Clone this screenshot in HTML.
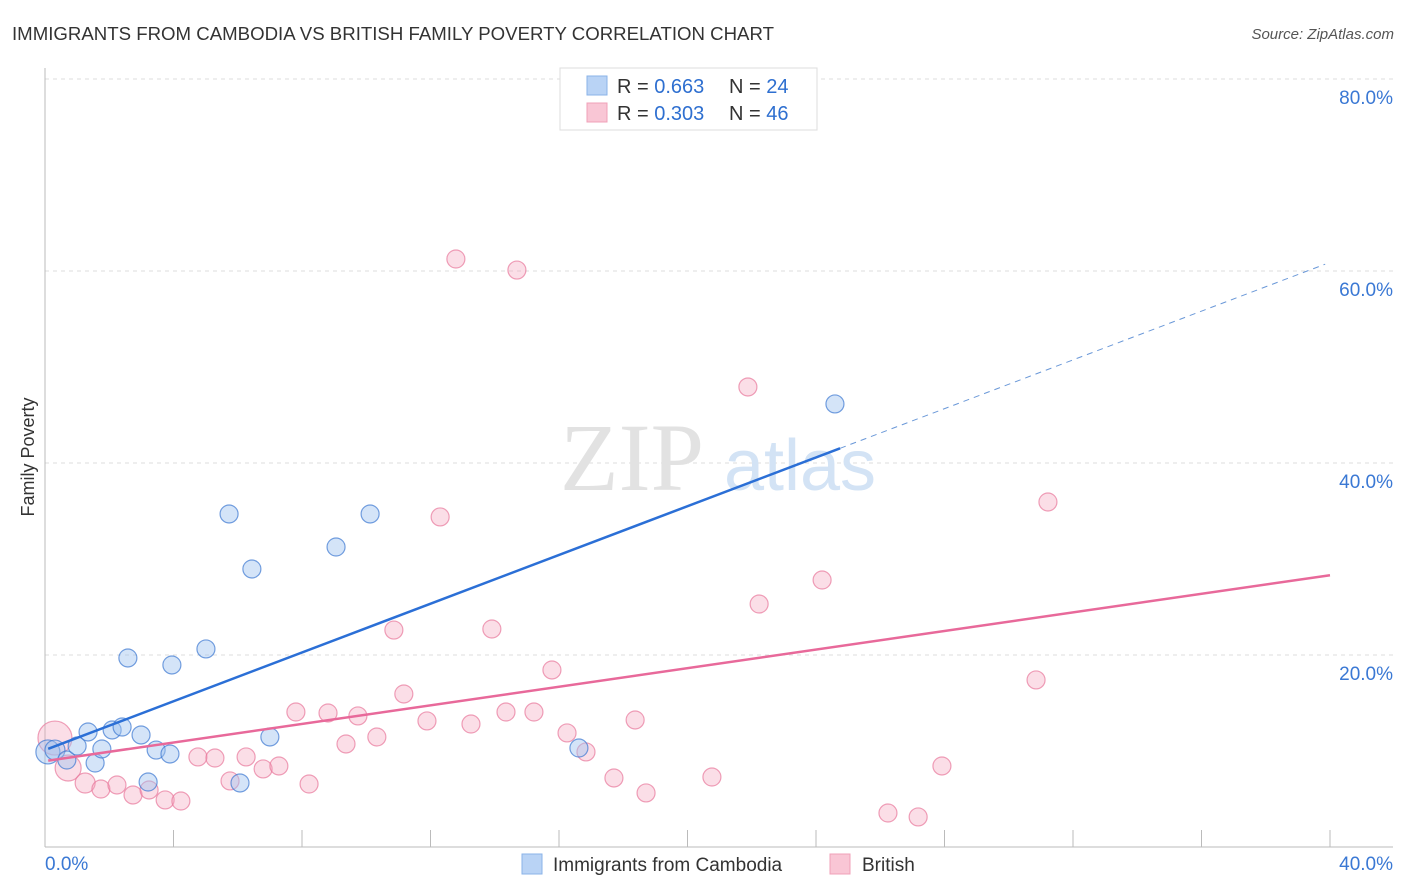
<!DOCTYPE html>
<html><head><meta charset="utf-8"><style>
body{margin:0;background:#fff;font-family:"Liberation Sans",sans-serif;}
svg{display:block}
</style></head><body>
<svg id="chart" width="1406" height="892" xmlns="http://www.w3.org/2000/svg">
<text x="12" y="40" font-size="18" fill="#333" textLength="762" lengthAdjust="spacingAndGlyphs">IMMIGRANTS FROM CAMBODIA VS BRITISH FAMILY POVERTY CORRELATION CHART</text>
<text x="1394" y="39" font-size="15" fill="#555" font-style="italic" text-anchor="end">Source: ZipAtlas.com</text>
<g id="grid"></g>
<g>
<text x="632" y="490" font-size="96" fill="#e2e2e2" font-family="Liberation Serif,serif" text-anchor="middle">ZIP</text>
<text x="800" y="490" font-size="72" fill="#d3e3f5" text-anchor="middle">atlas</text>
</g>
<g id="axes"></g>
<g id="marks"></g>
<text transform="translate(34,457) rotate(-90)" font-size="18" fill="#333" text-anchor="middle">Family Poverty</text>
<g>
<rect x="560" y="68" width="257" height="62" fill="#fff" stroke="#ddd"/>
<rect x="587" y="76" width="20" height="19" fill="#b9d3f5" stroke="#8ab3e8"/>
<rect x="587" y="103" width="20" height="19" fill="#f9c6d5" stroke="#f0a0b8"/>
<text x="617" y="93" font-size="20" fill="#333">R = <tspan fill="#2e6fd0">0.663</tspan></text>
<text x="729" y="93" font-size="20" fill="#333">N = <tspan fill="#2e6fd0">24</tspan></text>
<text x="617" y="120" font-size="20" fill="#333">R = <tspan fill="#2e6fd0">0.303</tspan></text>
<text x="729" y="120" font-size="20" fill="#333">N = <tspan fill="#2e6fd0">46</tspan></text>
</g>
<g>
<rect x="522" y="854" width="20" height="20" fill="#b9d3f5" stroke="#8ab3e8"/>
<text x="553" y="871" font-size="19" fill="#333">Immigrants from Cambodia</text>
<rect x="830" y="854" width="20" height="20" fill="#f9c6d5" stroke="#f0a0b8"/>
<text x="862" y="871" font-size="19" fill="#333">British</text>
</g>
</svg>
<script>
const blueX=[0.09,0.31,0.68,1.0,1.34,1.56,1.77,2.09,2.4,2.58,2.99,3.21,3.46,3.89,3.95,5.01,5.73,6.07,6.44,7.0,9.06,10.12,16.62,24.59];
const blueY=[9.9,10.1,9.06,10.52,11.98,8.75,10.21,12.19,12.5,19.69,11.67,6.77,10.1,9.69,18.96,20.63,34.69,6.67,28.96,11.46,31.25,34.69,10.31,46.15];
const blueR=[12,10,9,9,9,9,9,9,9,9,9,9,9,9,9,9,9,9,9,9,9,9,9,9];
const pinkX=[0.31,0.72,1.25,1.74,2.24,2.74,3.24,3.74,4.23,4.76,5.29,5.76,6.26,6.79,7.28,7.81,8.22,8.81,9.37,9.74,10.33,10.86,11.17,11.89,12.3,12.79,13.26,13.91,14.35,14.69,15.22,15.78,16.25,16.84,17.71,18.37,18.71,20.76,21.88,22.23,24.19,26.24,27.18,27.92,30.85,31.22];
const pinkY=[11.35,8.23,6.67,6.04,6.46,5.42,5.94,4.9,4.79,9.38,9.27,6.88,9.38,8.13,8.44,14.06,6.56,13.96,10.73,13.65,11.46,22.6,15.94,13.13,34.38,61.25,12.81,22.71,14.06,60.1,14.06,18.44,11.88,9.9,7.19,13.23,5.63,7.29,47.92,25.31,27.81,3.54,3.13,8.44,17.4,35.94];
const pinkR=[17,13,10,9,9,9,9,9,9,9,9,9,9,9,9,9,9,9,9,9,9,9,9,9,9,9,9,9,9,9,9,9,9,9,9,9,9,9,9,9,9,9,9,9,9,9];
const blueTrend=[10.1,1.27,24.75];
const pinkTrend=[8.95,0.484];
const yTicks=[20,40,60,80];
const yTickLabels=["20.0%","40.0%","60.0%","80.0%"];
const xTickLabels=["0.0%","40.0%"];
const NS="http://www.w3.org/2000/svg";
const X=v=>45+v*32.125, Y=v=>847-v*9.6;
function mk(tag,attrs,parent){const e=document.createElementNS(NS,tag);for(const k in attrs)e.setAttribute(k,attrs[k]);document.getElementById(parent).appendChild(e);return e;}
yTicks.forEach((t,i)=>{
 const g=mk('line',{x1:45,x2:1393,y1:Y(t),y2:Y(t),stroke:'#ddd','stroke-dasharray':'4,4'},'grid');
 
 
 const l=mk('text',{x:1393,y:Y(t)+25,'font-size':19,fill:'#3a78d4','text-anchor':'end'},'axes');
 l.textContent=yTickLabels[i];
 
 
});
let a=mk('line',{x1:45,x2:45,y1:68,y2:847,stroke:'#bbb'},'axes');


a=mk('line',{x1:45,x2:1393,y1:847,y2:847,stroke:'#bbb'},'axes');


for(let i=1;i<=10;i++){const t=mk('line',{x1:X(i*4),x2:X(i*4),y1:830,y2:847,stroke:'#bbb'},'axes');
 
 }
[[0,'start',45],[40,'end',1393]].forEach((d,i)=>{const t=mk('text',{x:d[2],y:870,'font-size':19,fill:'#3a78d4','text-anchor':d[1]},'axes');t.textContent=xTickLabels[i];
 
 });
pinkX.forEach((x,i)=>{const c=mk('circle',{cx:X(x),cy:Y(pinkY[i]),r:pinkR[i],fill:'rgba(244,160,185,0.35)',stroke:'rgba(232,120,155,0.7)','stroke-width':1.2},'marks');
 
 });
blueX.forEach((x,i)=>{const c=mk('circle',{cx:X(x),cy:Y(blueY[i]),r:blueR[i],fill:'rgba(160,196,240,0.45)',stroke:'rgba(60,120,210,0.7)','stroke-width':1.2},'marks');
 
 });
let ln=mk('line',{x1:X(0.1),y1:Y(blueTrend[0]+blueTrend[1]*0.1),x2:X(blueTrend[2]),y2:Y(blueTrend[0]+blueTrend[1]*blueTrend[2]),stroke:'#2b6fd6','stroke-width':2.5},'marks');


ln=mk('line',{x1:X(blueTrend[2]),y1:Y(blueTrend[0]+blueTrend[1]*blueTrend[2]),x2:X(39.85),y2:Y(blueTrend[0]+blueTrend[1]*39.85),stroke:'#6a98d8','stroke-width':1,'stroke-dasharray':'6,5'},'marks');


ln=mk('line',{x1:X(0.1),y1:Y(pinkTrend[0]+pinkTrend[1]*0.1),x2:X(40),y2:Y(pinkTrend[0]+pinkTrend[1]*40),stroke:'#e8699a','stroke-width':2.5},'marks');


</script>
</body></html>
